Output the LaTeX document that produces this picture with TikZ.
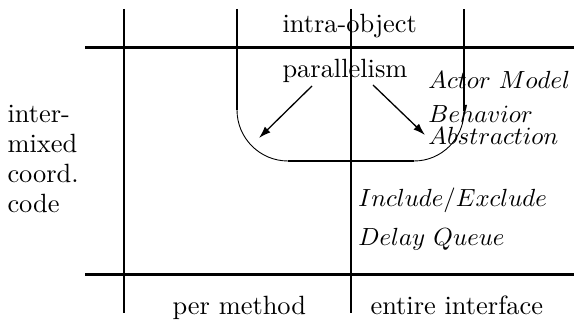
\documentclass[tikz,border=0pt]{standalone}
\usetikzlibrary{arrows.meta}
\tikzset{
  grid/.style={line width=2.6pt},
  thin arc/.style={line width=0.9pt},
  rmtext/.style={inner sep=0pt, anchor=base west, scale=2.64, transform shape},
  ittext/.style={inner sep=0pt, anchor=base west, scale=2.48, transform shape},
  arr/.style={line width=1.3pt, -{Latex[length=12pt,width=8pt]}}
}
\begin{document}
\begin{tikzpicture}[x=1pt,y=1pt]
\useasboundingbox (0,0) rectangle (574,324);
% grid lines
\draw[grid] (124,315) -- (124,11);
\draw[grid] (351,315) -- (351,11);
\draw[grid] (85,276.5) -- (574,276.5);
\draw[grid] (85,49.5) -- (574,49.5);
% rounded box
\draw[grid] (237,315) -- (237,214);
\draw[thin arc] (237,214) arc[start angle=180,end angle=270,radius=51];
\draw[grid] (288,163) -- (414,163);
\draw[thin arc] (414,163) arc[start angle=270,end angle=360,radius=50];
\draw[grid] (464,213) -- (464,315);
% texts
\node[rmtext] (intra) at (282,291) {intra-object};
\node[rmtext] (par) at (282,246) {parallelism};
\node[ittext] (actor) at (428,235) {$Actor\ Model$};
\node[ittext] (beh) at (428,201) {$Behavior$};
\node[ittext] (abs) at (428,179) {$Abstraction$};
\node[ittext] (incl) at (358,117) {$Include/Exclude$};
\node[ittext] (delay) at (358,78) {$Delay\ Queue$};
\node[rmtext] (l1) at (7,201) {inter-};
\node[rmtext] (l2) at (7,171) {mixed};
\node[rmtext] (l3) at (7,141) {coord.};
\node[rmtext] (l4) at (7,111) {code};
\node[rmtext] (perm) at (172,9) {per method};
\node[rmtext] (ent) at (370,9) {entire interface};
% arrows
\coordinate (a1s) at (312,238);
\coordinate (a1e) at (259,186);
\coordinate (a2s) at (373,239);
\coordinate (a2e) at (425,189);
\draw[arr] (a1s) -- (a1e);
\draw[arr] (a2s) -- (a2e);
\end{tikzpicture}
\end{document}
